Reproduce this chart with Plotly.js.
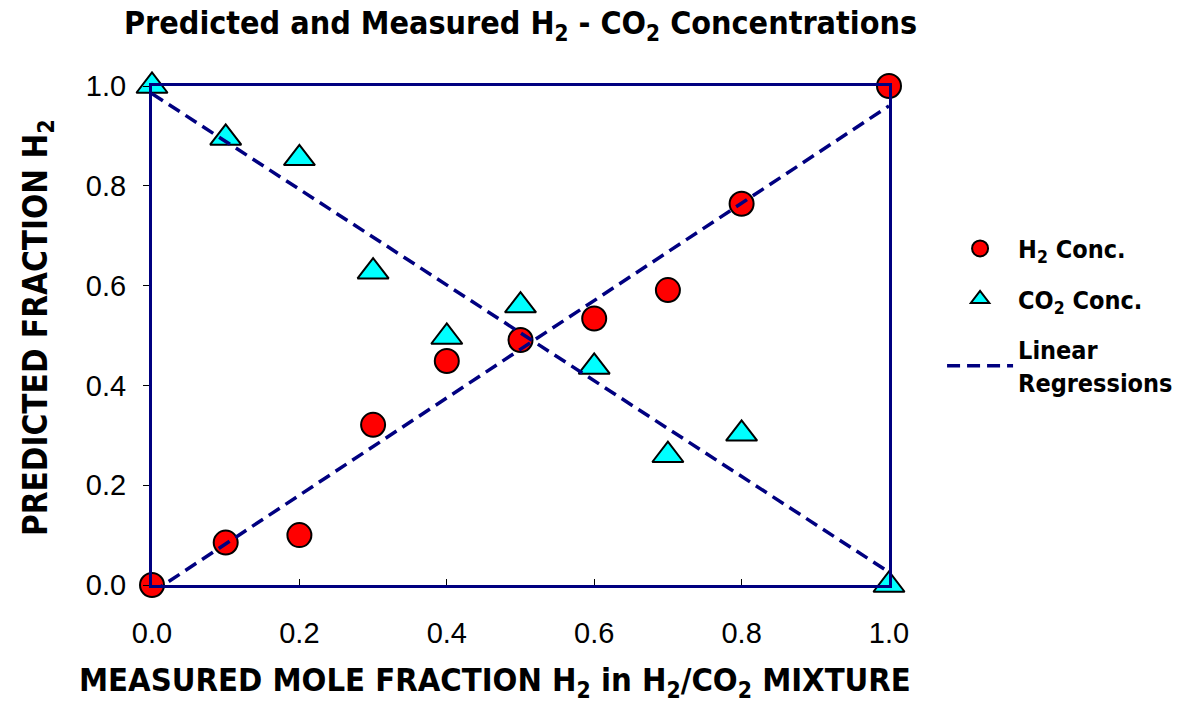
<!DOCTYPE html>
<html>
<head>
<meta charset="utf-8">
<script src="https://cdn.plot.ly/plotly-3.0.1.min.js"></script>
<style>html,body{margin:0;padding:0;background:#fff;}#chart{width:1191px;height:709px;}</style>
</head>
<body>
<div id="chart"></div>
<script>
// Data
const measuredH2 = [0.0, 0.1, 0.2, 0.3, 0.4, 0.5, 0.6, 0.7, 0.8, 1.0];
const predictedH2 = [0.0, 0.085, 0.100, 0.321, 0.449, 0.491, 0.534, 0.591, 0.764, 1.0];
const predictedCO2 = [1.0, 0.896, 0.855, 0.628, 0.497, 0.560, 0.437, 0.260, 0.303, 0.0];
const tickVals = [0.0, 0.2, 0.4, 0.6, 0.8, 1.0];
const tickText = ['0.0', '0.2', '0.4', '0.6', '0.8', '1.0'];

function linreg(xs, ys) {
  const n = xs.length;
  const mx = xs.reduce((a, b) => a + b, 0) / n;
  const my = ys.reduce((a, b) => a + b, 0) / n;
  let sxy = 0, sxx = 0;
  for (let i = 0; i < n; i++) { sxy += (xs[i] - mx) * (ys[i] - my); sxx += (xs[i] - mx) ** 2; }
  const m = sxy / sxx;
  return { m: m, b: my - m * mx };
}
const xmin = Math.min(...measuredH2), xmax = Math.max(...measuredH2);
const rH2 = linreg(measuredH2, predictedH2);
const rCO2 = linreg(measuredH2, predictedCO2);
const regX = [xmin, xmax, null, xmin, xmax];
const regY = [rH2.b + rH2.m * xmin, rH2.b + rH2.m * xmax, null, rCO2.b + rCO2.m * xmin, rCO2.b + rCO2.m * xmax];

const NAVY = '#000080';
const narrow = '"DejaVu Sans Condensed", "Liberation Sans Narrow", "Arial Narrow", "Liberation Sans", Arial, sans-serif';
const regular = '"Liberation Sans", Arial, sans-serif';

const traces = [
  {
    x: measuredH2, y: predictedH2, type: 'scatter', mode: 'markers',
    name: '<b>H<sub>2</sub> Conc.</b>', legendgroup: 'a',
    marker: { symbol: 'circle', size: 24, color: '#ff0000', line: { color: '#000', width: 2 } },
    cliponaxis: false
  },
  {
    x: measuredH2, y: predictedCO2, type: 'scatter', mode: 'markers',
    name: '<b>CO<sub>2</sub> Conc.</b>', legendgroup: 'b',
    marker: { symbol: 'triangle-up', size: 27, color: '#00ffff', line: { color: '#000', width: 2 } },
    cliponaxis: false
  },
  {
    x: regX, y: regY, type: 'scatter', mode: 'lines',
    name: '<b>Linear<br>Regressions</b>', legendgroup: 'c',
    line: { color: NAVY, width: 3.5, dash: '13px,7px' },
    connectgaps: false, cliponaxis: false
  }
];

const layout = {
  width: 1191, height: 709,
  margin: { l: 152, r: 302, t: 86, b: 124, pad: 0 },
  paper_bgcolor: '#fff', plot_bgcolor: '#fff',
  title: {
    text: '<b>Predicted and Measured H<sub>2</sub> - CO<sub>2</sub> Concentrations</b>',
    font: { family: narrow, size: 32, color: '#000' },
    x: 0.5, xref: 'paper', xanchor: 'center',
    y: 0.968, yref: 'container', yanchor: 'middle'
  },
  xaxis: {
    range: [0, 1], tickvals: tickVals, ticktext: tickText,
    showgrid: false, zeroline: false,
    showline: true, mirror: true, linecolor: NAVY, linewidth: 3,
    ticks: 'inside', ticklen: 6, tickwidth: 1, tickcolor: '#000',
    ticklabelstandoff: 20,
    tickfont: { family: regular, size: 29, color: '#000' }
  },
  yaxis: {
    range: [0, 1], tickvals: tickVals, ticktext: tickText,
    showgrid: false, zeroline: false,
    showline: true, mirror: true, linecolor: NAVY, linewidth: 3,
    ticks: 'outside', ticklen: 6, tickwidth: 1, tickcolor: '#000',
    ticklabelstandoff: 11,
    tickfont: { family: regular, size: 29, color: '#000' }
  },
  annotations: [
    {
      text: '<b>MEASURED MOLE FRACTION H<sub>2</sub> in H<sub>2</sub>/CO<sub>2</sub> MIXTURE</b>',
      font: { family: narrow, size: 32.5, color: '#000' },
      xref: 'paper', yref: 'paper', x: 0.465, y: -0.195,
      xanchor: 'center', yanchor: 'middle', showarrow: false
    },
    {
      text: '<b>PREDICTED FRACTION H<sub>2</sub></b>',
      font: { family: narrow, size: 33, color: '#000' },
      xref: 'paper', yref: 'paper', x: -0.156, y: 0.515, textangle: -90,
      xanchor: 'center', yanchor: 'middle', showarrow: false
    }
  ],
  showlegend: true,
  legend: {
    x: 1.072, xanchor: 'left', y: 0.72, yanchor: 'top',
    font: { family: narrow, size: 25, color: '#000' },
    bgcolor: 'rgba(0,0,0,0)', borderwidth: 0,
    itemwidth: 66, tracegroupgap: 15, traceorder: 'grouped'
  }
};

Plotly.newPlot('chart', traces, layout, { displayModeBar: false, staticPlot: true });
</script>
</body>
</html>
